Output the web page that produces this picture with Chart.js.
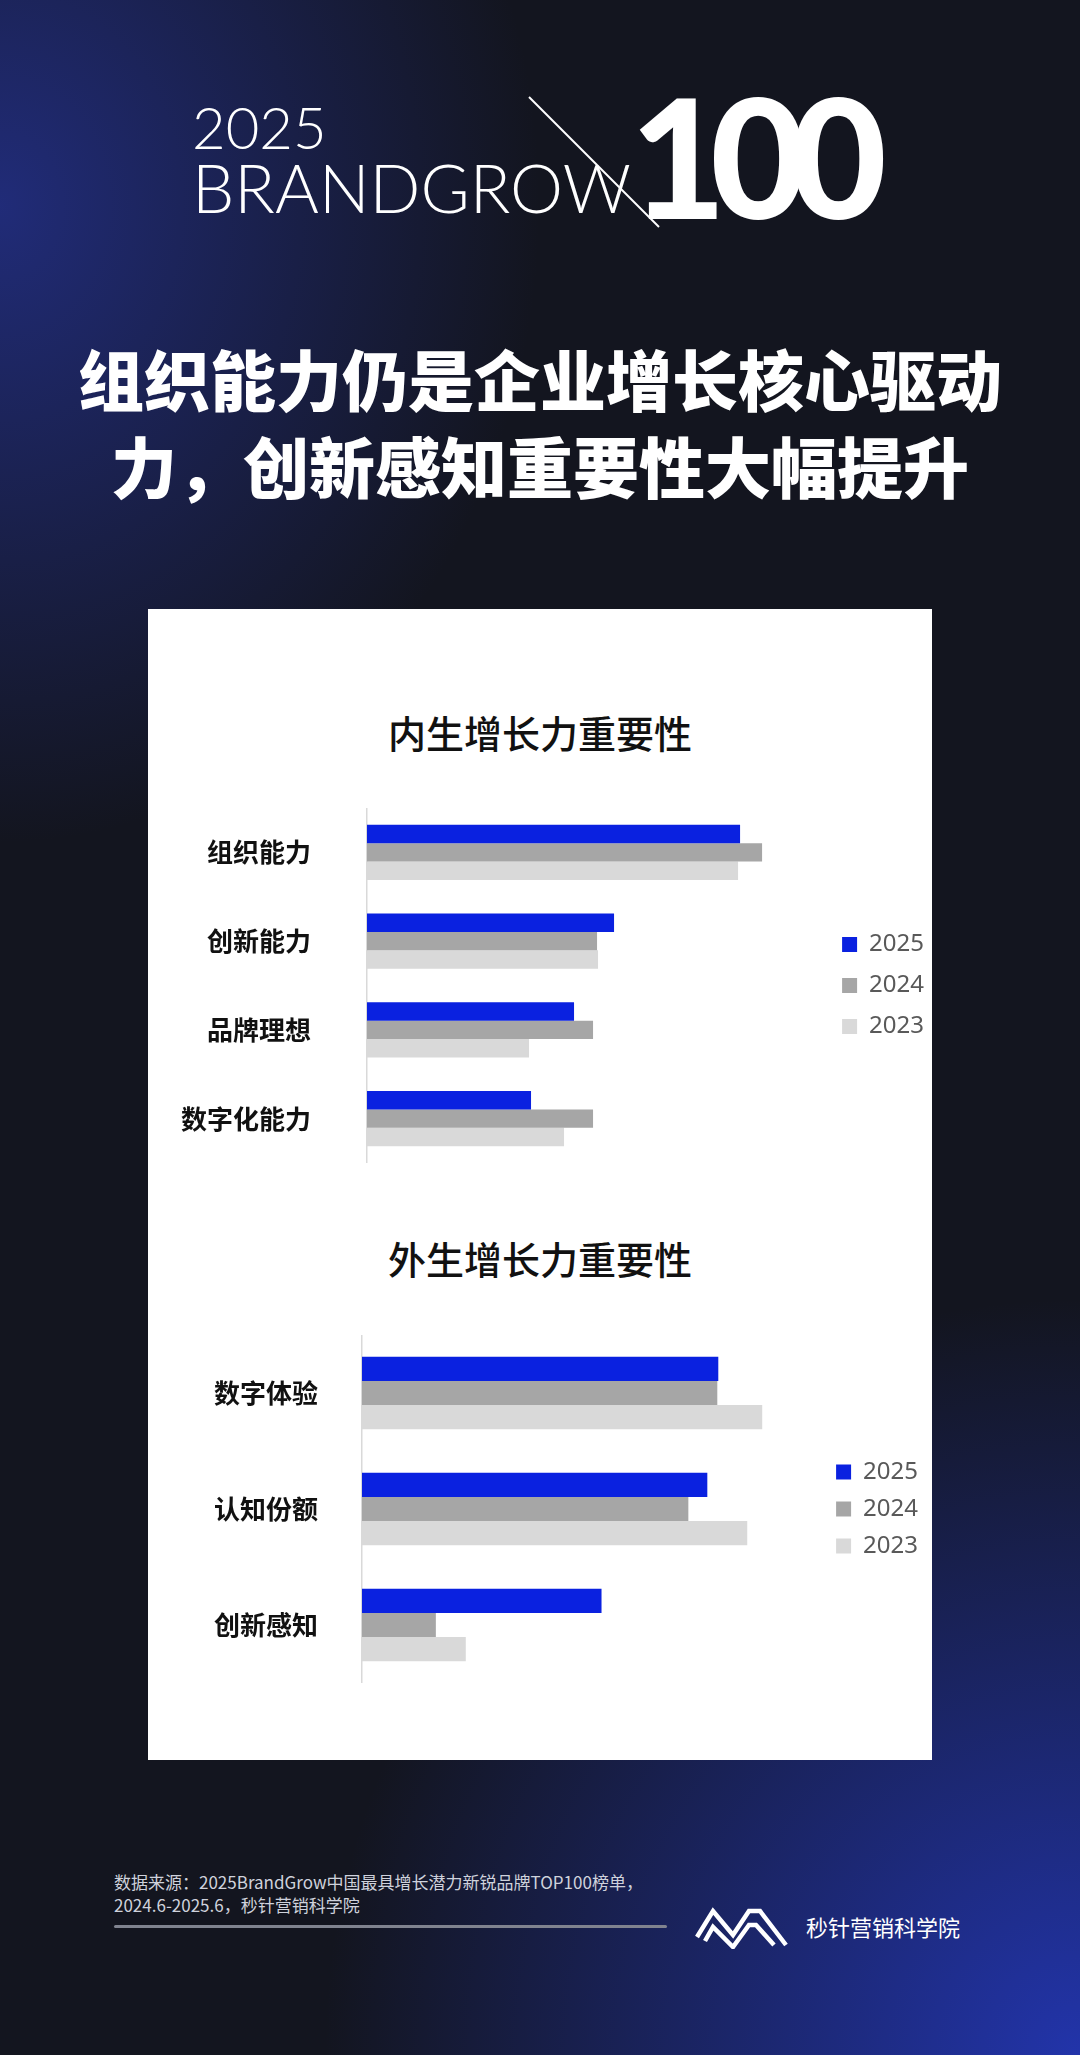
<!DOCTYPE html>
<html lang="zh">
<head>
<meta charset="UTF-8">
<title>内生/外生增长力重要性</title>
<script src="https://cdn.jsdelivr.net/npm/chart.js"></script>
<style>
  html, body {
    margin: 0;
    padding: 0;
  }
  body {
    width: 1080px;
    height: 2055px;
    position: relative;
    overflow: hidden;
    font-family: "Noto Sans CJK SC", "Noto Sans", sans-serif;
    background:
      radial-gradient(ellipse 720px 850px at 0% 10%, rgba(34, 46, 130, 0.9), rgba(34, 46, 130, 0) 75%),
      radial-gradient(ellipse 1050px 1050px at 100% 100%, rgba(34, 52, 170, 1), rgba(34, 52, 170, 0) 72%),
      #13151f;
  }
  .abs { position: absolute; }
  .logo-2025 {
    left: 192px; top: 98px;
    font-family: Lato, sans-serif; font-weight: 300;
    font-size: 58px; line-height: 1; color: #fff;
  }
  .logo-brand {
    left: 192px; top: 154px;
    font-family: Lato, sans-serif; font-weight: 300;
    font-size: 67px; line-height: 1; color: #fff;
  }
  .logo-100 {
    left: 630px; top: 72px;
    font-family: Lato, sans-serif; font-weight: 900;
    font-size: 166px; line-height: 1; color: #fff;
    letter-spacing: -16px;
  }
  .headline {
    left: 0; width: 1080px; top: 334px;
    text-align: center; color: #fff;
    font-size: 66px; font-weight: 900; line-height: 87px;
  }
  .panel {
    left: 148px; top: 609px; width: 784px; height: 1151px;
    background: #fff;
  }
  .chart-title {
    left: 148px; width: 784px;
    text-align: center; color: #111;
    font-size: 38px; font-weight: 500; line-height: 50px;
  }
  .source {
    left: 114px; top: 1870px;
    color: #cfd2dc; font-size: 17px; line-height: 23px;
  }
  .rule {
    left: 114px; top: 1925px; width: 553px; height: 3px;
    background: #80838f; border-radius: 2px;
  }
  .brand {
    left: 806px; top: 1911px;
    color: #fff; font-size: 22px; line-height: 30px;
  }
</style>
</head>
<body>
<script>
  // 内生增长力重要性
  const innerLabels = ['组织能力', '创新能力', '品牌理想', '数字化能力'];
  const inner2025 = [37.3, 24.7, 20.7, 16.4];
  const inner2024 = [39.5, 23.0, 22.6, 22.6];
  const inner2023 = [37.1, 23.1, 16.2, 19.7];

  // 外生增长力重要性
  const outerLabels = ['数字体验', '认知份额', '创新感知'];
  const outer2025 = [35.7, 34.6, 24.0];
  const outer2024 = [35.6, 32.7, 7.4];
  const outer2023 = [40.1, 38.6, 10.4];

  const years = ['2025', '2024', '2023'];
  const yearColors = ['#0a21e0', '#a6a6a6', '#d9d9d9'];
</script>

<div class="abs logo-2025">2025</div>
<div class="abs logo-brand">BRANDGROW</div>
<div class="abs logo-100">100</div>
<svg class="abs" style="left:0;top:0" width="1080" height="260">
  <line x1="529" y1="97" x2="659" y2="227" stroke="#fff" stroke-width="2"/>
</svg>

<div class="abs headline">组织能力仍是企业增长核心驱动<br>力，创新感知重要性大幅提升</div>

<div class="abs panel"></div>
<div class="abs chart-title" style="top:707px">内生增长力重要性</div>
<div class="abs chart-title" style="top:1233px">外生增长力重要性</div>

<canvas id="innerChart" class="abs" style="left:148px;top:808px" width="786" height="355"></canvas>
<canvas id="outerChart" class="abs" style="left:148px;top:1335px" width="780" height="348"></canvas>

<div class="abs source">数据来源：2025BrandGrow中国最具增长潜力新锐品牌TOP100榜单，<br>2024.6-2025.6，秒针营销科学院</div>
<div class="abs rule"></div>
<svg class="abs" style="left:694px;top:1903px" width="96" height="46" viewBox="0 0 96 46">
  <polyline points="3,34 19,8 39,32 55,8 66,8 92,42" fill="none" stroke="#fff" stroke-width="4.5" stroke-linejoin="miter"/>
  <polyline points="11,38 19,24 39,44 55,22 62,22 80,42" fill="none" stroke="#fff" stroke-width="4.5" stroke-linejoin="miter"/>
</svg>
<div class="abs brand">秒针营销科学院</div>

<script>
  function makeChart(canvasId, labels, series, axisWidth, tickPad, legendPad, xMax) {
    const ctx = document.getElementById(canvasId).getContext('2d');
    return new Chart(ctx, {
      type: 'bar',
      data: {
        labels: labels,
        datasets: series.map((values, i) => ({
          label: years[i],
          data: values,
          backgroundColor: yearColors[i],
          borderWidth: 0,
          barPercentage: 1.0,
          categoryPercentage: 0.625
        }))
      },
      options: {
        indexAxis: 'y',
        responsive: false,
        animation: false,
        layout: { padding: 0 },
        scales: {
          x: { display: false, min: 0, max: xMax },
          y: {
            grid: { display: false, drawTicks: false },
            border: { display: true, color: '#d9d9d9', width: 1.5 },
            ticks: {
              color: '#111',
              padding: tickPad,
              font: { family: 'Noto Sans CJK SC', weight: 'bold', size: 26 }
            },
            afterFit: function (scale) {
              scale.width = axisWidth;
              // tick padding would otherwise shrink the plot vertically
              scale.paddingTop = 0;
              scale.paddingBottom = 0;
            }
          }
        },
        plugins: {
          legend: {
            position: 'right',
            labels: {
              boxWidth: 15,
              boxHeight: 15,
              color: '#595959',
              padding: legendPad,
              font: { family: 'Noto Sans', size: 24 }
            }
          },
          tooltip: { enabled: false }
        }
      }
    });
  }

  makeChart('innerChart', innerLabels, [inner2025, inner2024, inner2023], 219, 56, 17, 45.8);
  makeChart('outerChart', outerLabels, [outer2025, outer2024, outer2023], 214, 44, 13, 46.2);
</script>
</body>
</html>
